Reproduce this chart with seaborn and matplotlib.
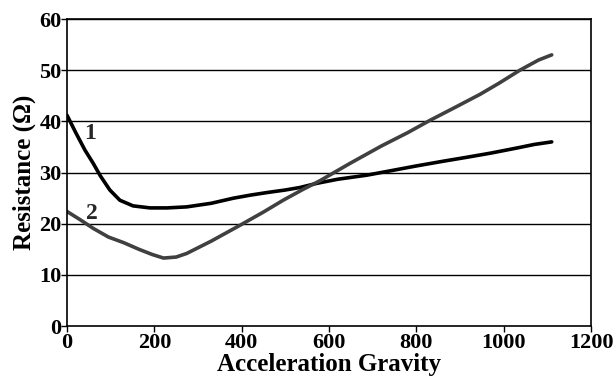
import matplotlib
matplotlib.use("Agg")
import matplotlib.pyplot as plt
import seaborn as sns
import pandas as pd

# Curve 1 (black)
x1 = [0, 20, 41, 60, 76, 98, 121, 151, 190, 229, 274, 330, 381, 420, 458, 500, 534, 572, 620, 687, 750, 800, 860, 916, 970, 1030, 1070, 1110]
y1 = [41.2, 37.8, 34.4, 31.8, 29.4, 26.6, 24.6, 23.5, 23.1, 23.1, 23.3, 24.0, 25.0, 25.6, 26.1, 26.6, 27.1, 27.9, 28.7, 29.5, 30.5, 31.3, 32.2, 33.0, 33.8, 34.8, 35.5, 36.0]

# Curve 2 (gray)
x2 = [0, 30, 60, 95, 130, 165, 195, 221, 250, 274, 330, 396, 450, 495, 540, 579, 648, 720, 780, 831, 890, 946, 990, 1037, 1080, 1110]
y2 = [22.4, 20.8, 19.1, 17.4, 16.3, 15.0, 14.0, 13.3, 13.5, 14.2, 16.6, 19.7, 22.3, 24.6, 26.7, 28.4, 31.8, 35.2, 37.8, 40.2, 42.8, 45.3, 47.5, 50.0, 52.0, 53.0]

xticks = [0, 200, 400, 600, 800, 1000, 1200]
yticks = [0, 10, 20, 30, 40, 50, 60]

df1 = pd.DataFrame({"x": x1, "y": y1})
df2 = pd.DataFrame({"x": x2, "y": y2})

sns.set_theme(style="white")
plt.rcParams["font.family"] = ["Liberation Serif", "DejaVu Serif"]

fig = plt.figure(figsize=(6.15, 3.81), dpi=100)
ax = fig.add_axes([0.109, 0.144, 0.852, 0.806])

sns.lineplot(data=df1, x="x", y="y", ax=ax, color="black", linewidth=2.6, sort=False)
sns.lineplot(data=df2, x="x", y="y", ax=ax, color="#404040", linewidth=2.6, sort=False)

ax.set_xlim(0, 1200)
ax.set_ylim(0, 60)
ax.set_xticks(xticks)
ax.set_yticks(yticks)
ax.set_xticklabels([str(t) for t in xticks], fontsize=16, fontweight="bold")
ax.set_yticklabels([str(t) for t in yticks], fontsize=16, fontweight="bold")
for t in yticks[1:]:
    ax.axhline(t, color="black", linewidth=1.0, zorder=0)

for s in ax.spines.values():
    s.set_visible(True)
    s.set_color("black")
    s.set_linewidth(1.2)
ax.tick_params(axis="both", which="both", direction="out", length=4, width=1, color="black", labelcolor="black")
ax.tick_params(axis="y", left=True, pad=0)
ax.tick_params(axis="x", bottom=True, pad=1)

ax.set_xlabel("Acceleration Gravity", fontsize=18, fontweight="bold", labelpad=0, color="black")
ax.set_ylabel("Resistance (Ω)", fontsize=18, fontweight="bold", labelpad=2, color="black")

ax.text(53, 37.7, "1", fontsize=17, fontweight="bold", ha="center", va="center")
ax.text(57, 22.1, "2", fontsize=17, fontweight="bold", ha="center", va="center")

fig.savefig("out.png", dpi=100)
